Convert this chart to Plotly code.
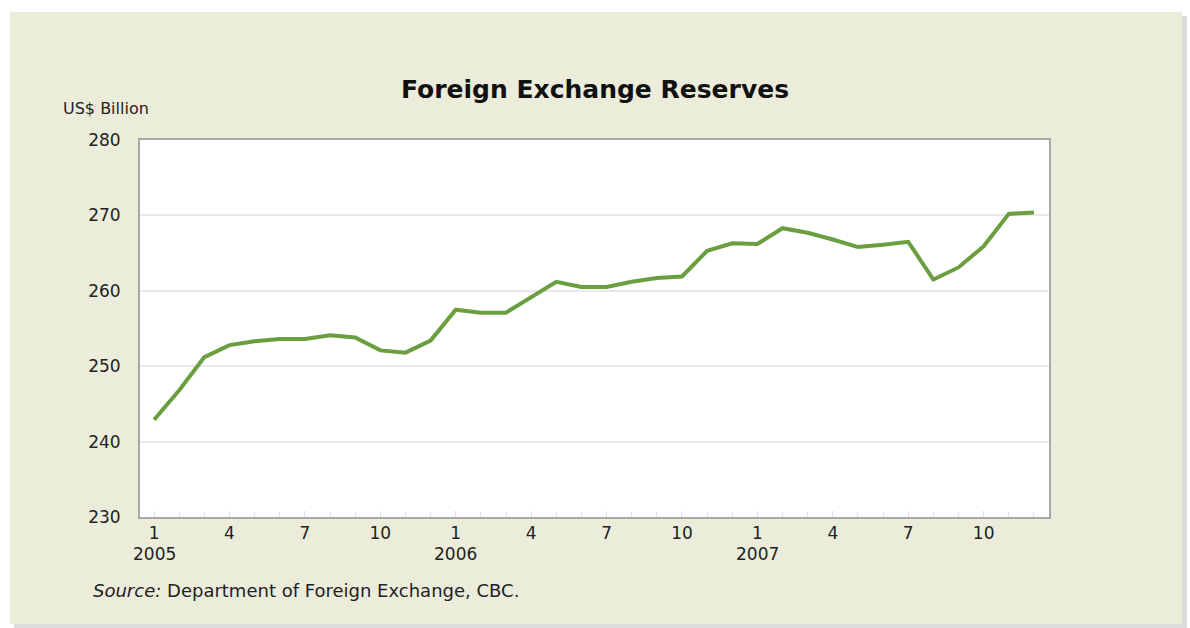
import plotly.graph_objects as go

# ---- data ----
months = ["2005-01", "2005-02", "2005-03", "2005-04", "2005-05", "2005-06",
          "2005-07", "2005-08", "2005-09", "2005-10", "2005-11", "2005-12",
          "2006-01", "2006-02", "2006-03", "2006-04", "2006-05", "2006-06",
          "2006-07", "2006-08", "2006-09", "2006-10", "2006-11", "2006-12",
          "2007-01", "2007-02", "2007-03", "2007-04", "2007-05", "2007-06",
          "2007-07", "2007-08", "2007-09", "2007-10", "2007-11", "2007-12"]
reserves = [242.9, 246.8, 251.2, 252.8, 253.3, 253.6,
            253.6, 254.1, 253.8, 252.1, 251.8, 253.4,
            257.5, 257.1, 257.1, 259.2, 261.2, 260.5,
            260.5, 261.2, 261.7, 261.9, 265.3, 266.3,
            266.2, 268.3, 267.7, 266.8, 265.8, 266.1,
            266.5, 261.5, 263.1, 265.9, 270.2, 270.4]
tick_positions = [0, 3, 6, 9, 12, 15, 18, 21, 24, 27, 30, 33]
tick_labels = ["1", "4", "7", "10", "1", "4", "7", "10", "1", "4", "7", "10"]
year_positions = [0, 12, 24]
year_labels = ["2005", "2006", "2007"]
y_ticks = [230, 240, 250, 260, 270, 280]

x_idx = list(range(len(months)))

FONT = "'DejaVu Sans', sans-serif"
CARD = "#ECECDA"
TXT = "#222222"

fig = go.Figure()
fig.add_trace(go.Scatter(
    x=x_idx, y=reserves, mode="lines",
    line=dict(color="#6A9E3F", width=4),
    customdata=months, hovertemplate="%{customdata}: %{y}<extra></extra>",
    showlegend=False))

W, H = 1190, 628
L, R, T, B = 140, 141, 140, 111
pw, ph = W - L - R, H - T - B


def px_x(p):
    return (p - L) / pw


def px_y(p):
    return (H - B - p) / ph


shapes = [
    dict(type="rect", xref="paper", yref="paper", layer="below",
         x0=px_x(14), x1=px_x(1187), y0=px_y(628), y1=px_y(16),
         fillcolor="#DCDCDC", line=dict(width=0)),
    dict(type="rect", xref="paper", yref="paper", layer="below",
         x0=px_x(10), x1=px_x(1182), y0=px_y(624), y1=px_y(12),
         fillcolor=CARD, line=dict(width=0)),
    dict(type="rect", xref="paper", yref="paper", layer="below",
         x0=0, x1=1, y0=0, y1=1, fillcolor="white", line=dict(width=0)),
]

annotations = [
    dict(text="<b>Foreign Exchange Reserves</b>", xref="paper", yref="paper",
         x=0.5, y=px_y(89), xanchor="center", yanchor="middle",
         showarrow=False, font=dict(family=FONT, size=25, color="#111111")),
    dict(text="US$ Billion", xref="paper", yref="paper",
         x=px_x(61), y=px_y(108), xanchor="left", yanchor="middle",
         showarrow=False, font=dict(family=FONT, size=16, color=TXT)),
    dict(text="<i>Source:</i> Department of Foreign Exchange, CBC.",
         xref="paper", yref="paper",
         x=px_x(91), y=px_y(590), xanchor="left", yanchor="middle",
         showarrow=False, font=dict(family=FONT, size=18, color=TXT)),
]
for pos, lab in zip(year_positions, year_labels):
    annotations.append(dict(
        text=lab, xref="x", yref="paper", x=pos, y=px_y(542),
        xanchor="center", yanchor="top", showarrow=False,
        font=dict(family=FONT, size=17, color=TXT)))

fig.update_layout(
    width=W, height=H,
    margin=dict(l=L, r=R, t=T, b=B, pad=0),
    paper_bgcolor="white", plot_bgcolor="white",
    shapes=shapes, annotations=annotations,
    font=dict(family=FONT, size=17, color=TXT),
    xaxis=dict(
        range=[-0.56, 35.6], tickmode="array",
        tickvals=tick_positions, ticktext=tick_labels,
        ticks="inside", ticklen=6, tickcolor="#DDDDDD", tickwidth=1,
        minor=dict(dtick=1, tick0=0, ticks="inside", ticklen=5,
                   tickcolor="#E4E4E4"),
        showgrid=False, zeroline=False,
        showline=True, linecolor="#A8A8A8", linewidth=2, mirror=True,
        tickfont=dict(family=FONT, size=17, color=TXT),
    ),
    yaxis=dict(
        range=[230, 280], tickmode="array", tickvals=y_ticks,
        ticks="outside", ticklen=14, tickcolor="rgba(0,0,0,0)",
        showgrid=True, gridcolor="#E8E8E8", gridwidth=2, zeroline=False,
        showline=True, linecolor="#A8A8A8", linewidth=2, mirror=True,
        tickfont=dict(family=FONT, size=17, color=TXT),
    ),
)

fig.write_html("out.html")
